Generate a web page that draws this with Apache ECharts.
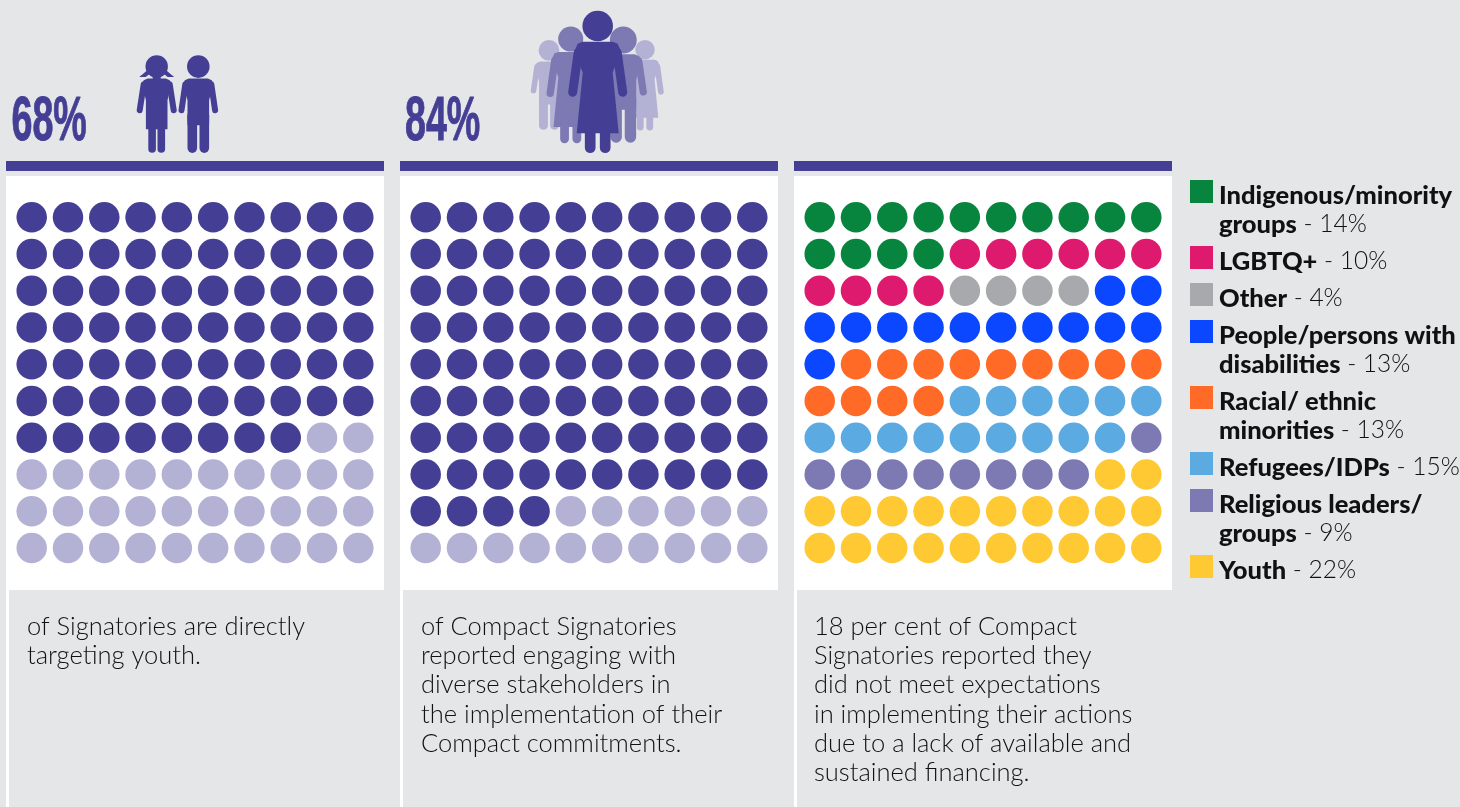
<!DOCTYPE html>
<html><head><meta charset="utf-8">
<style>html,body{margin:0;padding:0;background:#e5e6e8}#c{width:1460px;height:807px}</style>
<script src="https://cdn.jsdelivr.net/npm/echarts@6/dist/echarts.min.js"></script>
</head><body><div id="c"></div>
<script>
const headlines = ['68%', '84%'];
const youthCounts = [68, 32];
const stakeholderCounts = [84, 16];
const groupNames = [['Indigenous/minority', 'groups'], ['LGBTQ+'], ['Other'], ['People/persons with', 'disabilities'], ['Racial/ ethnic', 'minorities'], ['Refugees/IDPs'], ['Religious leaders/', 'groups'], ['Youth']];
const groupCounts = [14, 10, 4, 13, 13, 15, 9, 22];
const captions = [
  ['of Signatories are directly', 'targeting youth.'],
  ['of Compact Signatories', 'reported engaging with', 'diverse stakeholders in', 'the implementation of their', 'Compact commitments.'],
  ['18 per cent of Compact', 'Signatories reported they', 'did not meet expectations', 'in implementing their actions', 'due to a lack of available and', 'sustained financing.']
];

const DARK = '#443f94', MID = '#7c79b3', LIGHT = '#b3b1d4', BG = '#e5e6e8', INK = '#111111';
const groupColors = ['#07853f', '#de1a6e', '#a7a9ac', '#0a47ff', '#ff6a26', '#5caae2', '#7c79b3', '#ffc933'];
const panelLeft = [6, 400, 794];
const PANEL_W = 378;
const BODY_FONT = 'Lato, "Open Sans", sans-serif';

function panelSeries(counts, names, colors, idx) {
  let n = 0;
  return counts.map((c, i) => {
    const data = [];
    for (let k = 0; k < c; k++, n++) data.push([n % 10, Math.floor(n / 10)]);
    return { type: 'scatter', name: names[i], xAxisIndex: idx, yAxisIndex: idx, data,
      symbol: 'circle', symbolSize: 30.5, silent: true, animation: false,
      itemStyle: { color: colors[i], opacity: 1 } };
  });
}
const series = [
  ...panelSeries(youthCounts, ['Targeting youth', 'Not targeting'], [DARK, LIGHT], 0),
  ...panelSeries(stakeholderCounts, ['Engaging', 'Not engaging'], [DARK, LIGHT], 1),
  ...panelSeries(groupCounts, groupNames.map(g => g.join(' ')), groupColors, 2)
];
const grids = panelLeft.map(l => ({ left: l + 25.7, width: 326.6, top: 217.3, height: 330.7, show: false }));
const xAxes = panelLeft.map((_, i) => ({ type: 'value', gridIndex: i, min: 0, max: 9, show: false }));
const yAxes = panelLeft.map((_, i) => ({ type: 'value', gridIndex: i, min: 0, max: 9, inverse: true, show: false }));

/* ----- decoration: panels, icons, captions, legend ----- */
const g = [];
panelLeft.forEach(l => {
  g.push({ type: 'rect', shape: { x: l, y: 161, width: PANEL_W, height: 10 }, style: { fill: DARK } });
  g.push({ type: 'rect', shape: { x: l, y: 176, width: PANEL_W, height: 414 }, style: { fill: '#fff' } });
  g.push({ type: 'rect', shape: { x: l, y: 590, width: 3, height: 217 }, style: { fill: '#fff' } });
});

function limb(x1, y1, x2, y2, w, c) {
  return { type: 'line', shape: { x1, y1, x2, y2 }, style: { stroke: c, lineWidth: w, lineCap: 'round' } };
}
function man(c) {
  return [
    { type: 'circle', shape: { cx: 0, cy: 11.3, r: 11.3 }, style: { fill: c } },
    { type: 'polygon', shape: { points: [[-9.5, 23.3], [9.5, 23.3], [13.5, 25], [15, 29], [10.8, 45], [10.8, 70], [-10.8, 70], [-10.8, 45], [-15, 29], [-13.5, 25]] }, style: { fill: c } },
    limb(-13, 29, -16.8, 55, 6, c), limb(13, 29, 16.8, 55, 6, c),
    limb(-6, 60, -6, 92.8, 9.6, c), limb(6, 60, 6, 92.8, 9.6, c),
    { type: 'rect', shape: { x: -10.8, y: 60, width: 21.6, height: 6 }, style: { fill: c } }
  ];
}
function woman(c) {
  return [
    { type: 'circle', shape: { cx: 0, cy: 15.3, r: 15.3 }, style: { fill: c } },
    { type: 'polygon', shape: { points: [[-15, 31], [15, 31], [20, 33], [23, 40], [15, 62], [21, 122.6], [-21, 122.6], [-15, 62], [-23, 40], [-20, 33]] }, style: { fill: c } },
    limb(-19.5, 42, -25, 81.5, 9, c), limb(19.5, 42, 25, 81.5, 9, c),
    limb(-7.5, 115, -7.5, 137, 10.7, c), limb(7.5, 115, 7.5, 137, 10.7, c)
  ];
}
function girl(c) {
  return [
    { type: 'circle', shape: { cx: 0, cy: 11.2, r: 11.2 }, style: { fill: c } },
    { type: 'polygon', shape: { points: [[-9.5, 15], [-13.5, 18.5], [-17.5, 21.8], [-11, 21.8], [-7.5, 19], [7.5, 19], [11, 21.8], [17.5, 21.8], [13.5, 18.5], [9.5, 15]] }, style: { fill: c } },
    { type: 'rect', shape: { x: -4, y: 20, width: 8, height: 5 }, style: { fill: c } },
    { type: 'polygon', shape: { points: [[-9, 23.3], [9, 23.3], [13, 25], [14.5, 29], [10.8, 45], [10.8, 74], [-10.8, 74], [-10.8, 45], [-14.5, 29], [-13, 25]] }, style: { fill: c } },
    limb(-13, 29, -17, 55, 6, c), limb(13, 29, 17, 55, 6, c),
    limb(-4.6, 72, -4.6, 93.7, 7.6, c), limb(4.6, 72, 4.6, 93.7, 7.6, c)
  ];
}
function figure(children, x, y, s) {
  g.push({ type: 'group', x, y, scaleX: s, scaleY: s, children });
}
figure(girl(DARK), 156.7, 55.3, 1);
figure(man(DARK), 198.3, 55.3, 1);
figure(man(LIGHT), 549, 40, 0.92);
figure(woman(LIGHT), 645, 40, 0.635);
figure(woman(MID), 570.7, 26.5, 0.82);
figure(man(MID), 623.3, 26.5, 1.19);
figure(woman(DARK), 597.7, 10.7, 1);

headlines.forEach((t, i) => {
  g.push({ type: 'text', x: [11.5, 405][i], y: 154, scaleX: 0.57, scaleY: 0.94,
    style: { text: t, fill: DARK, stroke: DARK, lineWidth: 1, font: 'bold 66px "Liberation Sans", sans-serif', verticalAlign: 'bottom', align: 'left' } });
});

captions.forEach((lines, i) => {
  lines.forEach((t, j) => {
    g.push({ type: 'text', x: panelLeft[i] + [21, 21, 20][i], y: 626.5 + j * 29.3,
      style: { text: t, fill: INK, font: '300 25.5px ' + BODY_FONT, verticalAlign: 'middle', align: 'left' } });
  });
});

let ly = 180;
groupNames.forEach((lines, i) => {
  g.push({ type: 'rect', shape: { x: 1190, y: ly, width: 23, height: 23 }, style: { fill: groupColors[i] } });
  lines.forEach((t, j) => {
    const last = j === lines.length - 1;
    g.push({ type: 'text', x: 1219, y: ly + 15.5 + j * 29,
      style: { rich: { b: { font: '900 25.5px ' + BODY_FONT, fill: '#111' }, r: { font: '300 24.5px ' + BODY_FONT, fill: INK } },
        text: '{b|' + t + '}' + (last ? '{r| - ' + groupCounts[i] + '%}' : ''), verticalAlign: 'middle', align: 'left' } });
  });
  ly += 37 + 29 * (lines.length - 1);
});

const chart = echarts.init(document.getElementById('c'), null, { renderer: 'canvas' });
chart.setOption({ backgroundColor: BG, animation: false, grid: grids, xAxis: xAxes, yAxis: yAxes, series, graphic: { elements: g } });
</script></body></html>
